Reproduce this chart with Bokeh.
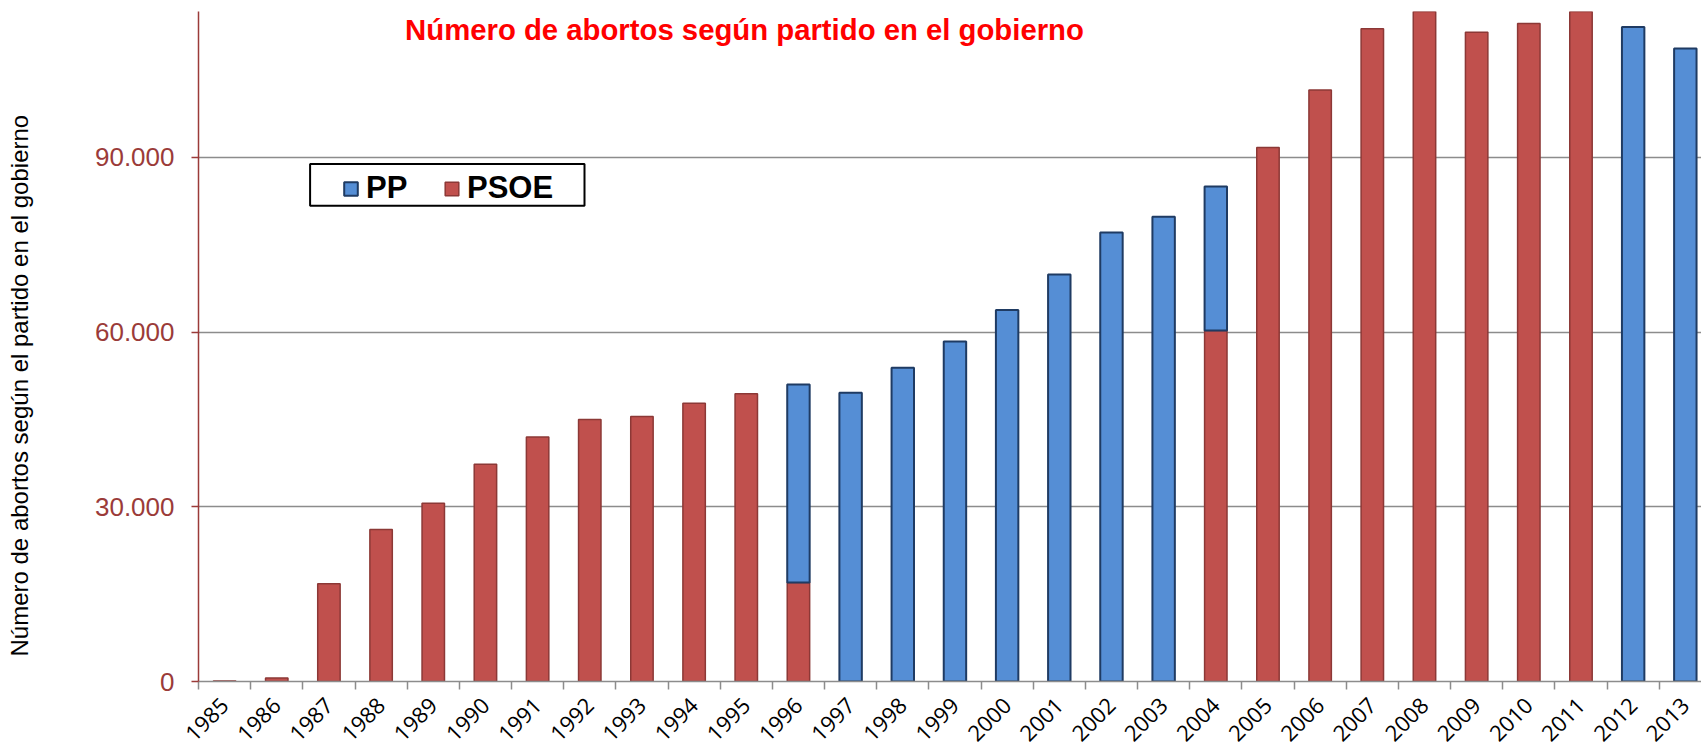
import math
from bokeh.plotting import figure
from bokeh.models import (FixedTicker, Legend, LegendItem, Label, Range1d, Title,
                          BoxAnnotation, ColumnDataSource, CDSView, BooleanFilter)
from bokeh.embed import file_html
from bokeh.resources import INLINE

# ---- data ----
years = ["1985", "1986", "1987", "1988", "1989", "1990", "1991", "1992", "1993",
         "1994", "1995", "1996", "1997", "1998", "1999", "2000", "2001", "2002",
         "2003", "2004", "2005", "2006", "2007", "2008", "2009", "2010", "2011",
         "2012", "2013"]
psoe = [100, 600, 16800, 26100, 30600, 37300, 42000, 45000, 45500, 47800, 49400,
        17000, 0, 0, 0, 0, 0, 0, 0, 60300,
        91700, 101600, 112100, 115800, 111500, 113000, 118400, 0, 0]
pp = [0, 0, 0, 0, 0, 0, 0, 0, 0, 0, 0,
      34000, 49600, 53900, 58400, 63800, 69900, 77100, 79800, 24700,
      0, 0, 0, 0, 0, 0, 0, 112400, 108700]
y_ticks = [0, 30000, 60000, 90000]
y_tick_labels = ["0", "30.000", "60.000", "90.000"]
series_names = ["PP", "PSOE"]
title_text = "Número de abortos según partido en el gobierno"
y_title = "Número de abortos según el partido en el gobierno"

idx = list(range(len(years)))
src = ColumnDataSource(dict(
    x=idx,
    psoe_top=psoe,
    pp_bottom=psoe,
    pp_top=[a + b for a, b in zip(psoe, pp)],
))
psoe_view = CDSView(filter=BooleanFilter([v > 0 for v in psoe]))
pp_view = CDSView(filter=BooleanFilter([v > 0 for v in pp]))

PP_FILL, PP_LINE = "#558ED5", "#1F3B63"
PSOE_FILL, PSOE_LINE = "#C0504D", "#8C3836"
RED_AXIS = "#9B3B39"
GRAY = "#8C8C8C"

p = figure(width=1701, height=751, output_backend="svg", toolbar_location=None,
           x_range=Range1d(-0.5, 28.31), y_range=Range1d(0, 115070),
           min_border_left=197, min_border_right=0, min_border_top=11,
           min_border_bottom=70)
p.outline_line_color = None
p.background_fill_color = "white"
p.border_fill_color = "white"

r_psoe = p.vbar(x="x", top="psoe_top", bottom=0, width=0.43, source=src, view=psoe_view,
                fill_color=PSOE_FILL, line_color=PSOE_LINE, line_width=1.5)
r_pp = p.vbar(x="x", top="pp_top", bottom="pp_bottom", width=0.43, source=src, view=pp_view,
              fill_color=PP_FILL, line_color=PP_LINE, line_width=2)

# x axis
xa = p.xaxis[0]
xa.ticker = FixedTicker(ticks=idx, minor_ticks=[i - 0.5 for i in range(len(years) + 1)])
xa.major_label_overrides = {i: y for i, y in zip(idx, years)}
xa.major_label_orientation = math.pi / 4
xa.major_tick_out = 0
xa.major_tick_in = 0
xa.minor_tick_out = 8
xa.minor_tick_in = 0
xa.minor_tick_line_color = GRAY
xa.minor_tick_line_width = 1.5
xa.axis_line_color = GRAY
xa.axis_line_width = 1.5
xa.major_label_text_font = "Open Sans"
xa.major_label_text_font_size = "22px"
xa.major_label_text_color = "black"
xa.major_label_standoff = 12
p.xgrid.grid_line_color = None

# y axis
ya = p.yaxis[0]
ya.ticker = FixedTicker(ticks=y_ticks, minor_ticks=[])
ya.major_label_overrides = {t: l for t, l in zip(y_ticks, y_tick_labels)}
ya.axis_line_color = RED_AXIS
ya.axis_line_width = 1.5
ya.major_tick_line_color = RED_AXIS
ya.major_tick_line_width = 1.5
ya.major_tick_out = 7
ya.major_tick_in = 0
ya.minor_tick_line_color = None
ya.major_label_text_font = "Liberation Sans"
ya.major_label_text_font_size = "26px"
ya.major_label_text_color = RED_AXIS
ya.major_label_standoff = 17
p.ygrid.ticker = FixedTicker(ticks=y_ticks[1:])
p.ygrid.grid_line_color = GRAY
p.ygrid.grid_line_width = 1.5

# y-axis title in the left border, with a blank spacer between it and the tick labels
spacer = Title(text=" ", text_font_size="1px", standoff=53)
p.add_layout(spacer, "left")
p.add_layout(Title(text=y_title, text_font="Liberation Sans", text_font_size="24px",
                   text_font_style="normal", text_color="black", align="left",
                   offset=25, standoff=6), "left")

# title inside the plot area
p.add_layout(Label(x=546, y=652, x_units="screen", y_units="screen", text=title_text,
                   text_font="Liberation Sans", text_font_size="29.3px",
                   text_font_style="bold", text_color="#FF0000",
                   text_align="center", text_baseline="alphabetic"))

# legend frame + legend
p.add_layout(BoxAnnotation(left=111.6, right=386, bottom=475.7, top=517.4,
                           left_units="screen", right_units="screen",
                           bottom_units="screen", top_units="screen",
                           fill_color="white", fill_alpha=1,
                           line_color="black", line_width=2, line_alpha=1))
legend = Legend(items=[LegendItem(label=series_names[0], renderers=[r_pp]),
                       LegendItem(label=series_names[1], renderers=[r_psoe])],
                orientation="horizontal", location=(144, 475),
                glyph_width=17, glyph_height=17, label_standoff=7, spacing=0,
                label_width=77, padding=4, margin=0,
                label_text_font="Liberation Sans", label_text_font_size="31px",
                label_text_font_style="bold", label_text_color="black",
                border_line_color=None, background_fill_alpha=0)
p.add_layout(legend, "center")

open("out.html", "w").write(file_html(p, INLINE))
